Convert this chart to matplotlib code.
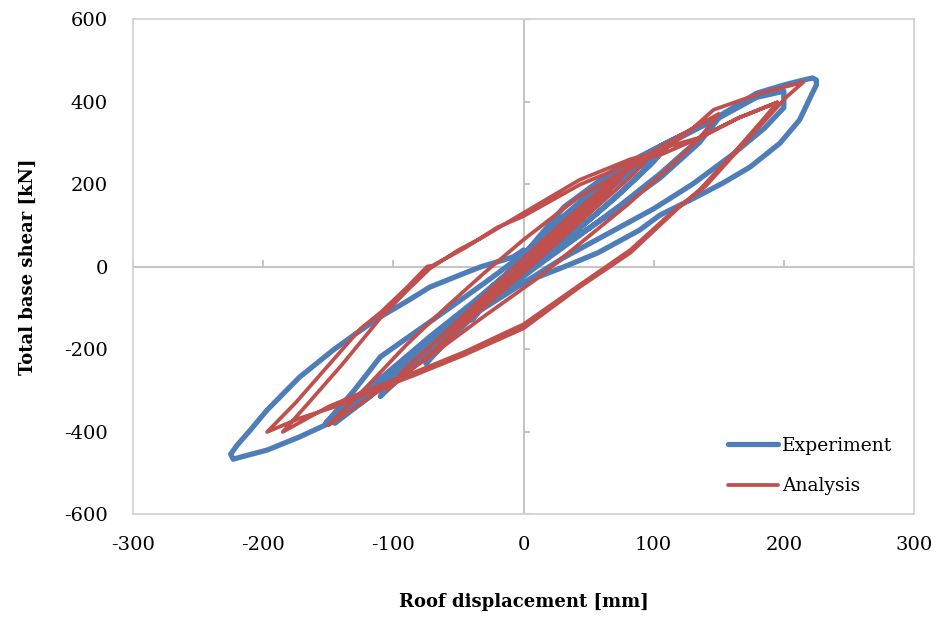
import numpy as np
import matplotlib
matplotlib.use("Agg")
import matplotlib.pyplot as plt

plt.rcParams["axes.unicode_minus"] = False

# Experiment cycles: (roof displacement [mm], total base shear [kN])
exp_c1 = [(0, 0), (20, 60), (40, 125), (32, 100), (15, 50), (0, 5), (-20, -60), (-40, -130),
          (-32, -100), (-15, -50), (0, -5), (20, 55)]
exp_c2 = [(45, 140), (75, 220), (65, 185), (45, 125), (20, 50), (0, -5), (-30, -95), (-55, -165),
          (-75, -235), (-63, -195), (-40, -125), (-15, -50), (10, 30)]
exp_c3 = [(40, 125), (70, 200), (95, 255), (110, 295), (100, 255), (80, 195), (55, 125), (25, 45),
          (0, -15), (-35, -110), (-70, -205), (-95, -270), (-110, -315), (-100, -275), (-80, -215),
          (-50, -140), (-20, -55), (10, 30),
          (45, 135), (75, 210), (110, 290), (97, 245), (70, 165), (40, 85), (10, 5), (-30, -95),
          (-70, -200), (-108, -305), (-95, -260), (-65, -180), (-35, -95), (0, 5)]
exp_c4 = [(35, 115), (69, 220), (100, 280), (128, 325), (148, 360), (145, 340), (130, 295),
          (105, 225), (75, 150), (45, 80), (10, 0), (-25, -85), (-60, -170), (-95, -255),
          (-120, -320), (-145, -380), (-140, -355), (-120, -300), (-95, -235), (-65, -160),
          (-35, -80), (-5, 5), (30, 110),
          (69, 225), (110, 300), (150, 360), (135, 300), (105, 215), (70, 135), (35, 60), (0, -20),
          (-40, -120), (-80, -215), (-115, -300), (-148, -378), (-130, -325), (-100, -245),
          (-70, -165), (-40, -90), (-10, -10), (31, 144)]
exp_c5 = [(69, 233), (110, 300), (150, 360), (179, 410), (200, 425), (200, 385), (185, 335),
          (160, 270), (130, 200), (100, 140), (65, 80), (30, 20), (0, -40), (-35, -110),
          (-70, -190), (-110, -275), (-140, -345), (-152, -380), (-130, -300), (-110, -219),
          (-70, -130), (-30, -40), (0, 30), (30, 120)]
exp_c6 = [(72, 235), (110, 300), (149, 362), (179, 420), (200, 440), (215, 452), (222, 457),
          (225, 452), (225, 440), (222, 421), (212, 355), (197, 299), (174, 241), (153, 202),
          (128, 161), (105, 125), (89, 88), (57, 33), (31, -1), (5, -33), (-25, -75), (-50, -125),
          (-75, -190), (-95, -250), (-120, -320), (-146, -375), (-172, -413), (-197, -445),
          (-215, -460), (-223, -467), (-225, -455), (-220, -433), (-210, -397), (-197, -348),
          (-172, -268), (-146, -202), (-128, -161), (-110, -122), (-90, -85), (-72, -50),
          (-50, -22), (-33, -1), (-8, 23), (0, 40)]

# Analysis cycles
ana_c1 = [(0, 0), (25, 75), (50, 145), (40, 115), (15, 45), (-15, -45), (-40, -120), (-50, -150),
          (-35, -100), (-10, -25), (15, 50)]
ana_c2 = [(50, 150), (75, 215), (65, 180), (40, 110), (10, 25), (-25, -80), (-55, -165),
          (-75, -225), (-60, -175), (-35, -95), (-5, -10), (25, 80)]
ana_c3 = [(60, 185), (100, 280), (85, 225), (60, 155), (30, 70), (0, -15), (-40, -125),
          (-75, -220), (-105, -300), (-90, -245), (-60, -160), (-30, -70), (0, 20), (35, 120)]
ana_c4 = [(70, 215), (100, 280), (130, 335), (150, 370), (135, 310), (110, 235), (80, 150),
          (45, 60), (10, -30), (-30, -120), (-75, -225), (-115, -310), (-150, -385)]
ana_c5 = [(-120, -290), (-90, -190), (-60, -100), (-30, -15), (0, 65), (43, 170), (82, 240),
          (110, 290), (136, 313), (165, 360), (195, 398), (185, 360), (160, 270), (135, 185),
          (110, 120), (82, 40), (43, -45), (0, -140), (-46, -208), (-85, -258), (-120, -300),
          (-150, -340), (-185, -401)]
ana_c6 = [(-165, -330), (-140, -240), (-110, -125), (-90, -60), (-72, -5), (-50, 40), (-33, 68),
          (0, 130), (43, 210), (82, 260), (107, 280), (130, 335), (146, 380), (182, 420),
          (215, 447), (202, 411), (170, 300), (140, 195), (120, 145), (82, 33), (43, -50),
          (0, -150), (-46, -215), (-85, -265), (-120, -307), (-146, -341), (-172, -368),
          (-197, -401)]
ana_c7 = [(-175, -330), (-150, -240), (-125, -150), (-110, -112), (-90, -52), (-74, 0),
          (-70, 2), (-45, 45), (-20, 95), (0, 122), (43, 198), (82, 250), (107, 273),
          (136, 313), (165, 360), (195, 398)]

exp_cycles = [exp_c1, exp_c2, exp_c3, exp_c4, exp_c5, exp_c6]
ana_cycles = [ana_c1, ana_c2, ana_c3, ana_c4, ana_c5, ana_c6, ana_c7]

x_ticks = [-300, -200, -100, 0, 100, 200, 300]
y_ticks = [-600, -400, -200, 0, 200, 400, 600]

blue = "#4F7DB8"
red = "#C0504D"
grey = "#BFBFBF"
serif = ["DejaVu Serif"]

exp = np.array([p for c in exp_cycles for p in c])
ana = np.array([p for c in ana_cycles for p in c])

fig = plt.figure(figsize=(9.42, 6.17), dpi=100)
ax = fig.add_axes([0.1412, 0.1669, 0.8291, 0.8023])

ax.plot(exp[:, 0], exp[:, 1], color=blue, lw=3.8, solid_joinstyle="round",
        solid_capstyle="round", label="Experiment", zorder=3)
ax.plot(ana[:, 0], ana[:, 1], color=red, lw=2.7, solid_joinstyle="round",
        solid_capstyle="round", label="Analysis", zorder=4)

ax.set_xlim(-300, 300)
ax.set_ylim(-600, 600)

# zero lines with small tick marks, like the spreadsheet chart
ax.axhline(0, color=grey, lw=1.3, zorder=1)
ax.axvline(0, color=grey, lw=1.3, zorder=1)
ax.vlines([t for t in x_ticks if t != 0], 0, 15, color=grey, lw=1.3, zorder=1)
ax.hlines([t for t in y_ticks if t != 0], 0, 4.6, color=grey, lw=1.3, zorder=1)

for s in ax.spines.values():
    s.set_color("#D0D0D0")
    s.set_linewidth(1.2)

ax.set_xticks(x_ticks)
ax.set_yticks(y_ticks)
ax.tick_params(length=0, labelsize=14)
ax.tick_params(axis="x", pad=16)
ax.tick_params(axis="y", pad=18)
for lab in ax.get_xticklabels() + ax.get_yticklabels():
    lab.set_family(serif)

ax.set_xlabel("Roof displacement [mm]", fontsize=13, fontweight="bold",
              family=serif, labelpad=28)
ax.set_ylabel("Total base shear [kN]", fontsize=13, fontweight="bold",
              family=serif, labelpad=20)

leg = ax.legend(loc="upper left", bbox_to_anchor=(0.74, 0.19), frameon=False,
                handlelength=2.7, handletextpad=0.2, labelspacing=1.2,
                prop={"family": serif, "size": 13.5})

fig.savefig("out.png", dpi=100)
